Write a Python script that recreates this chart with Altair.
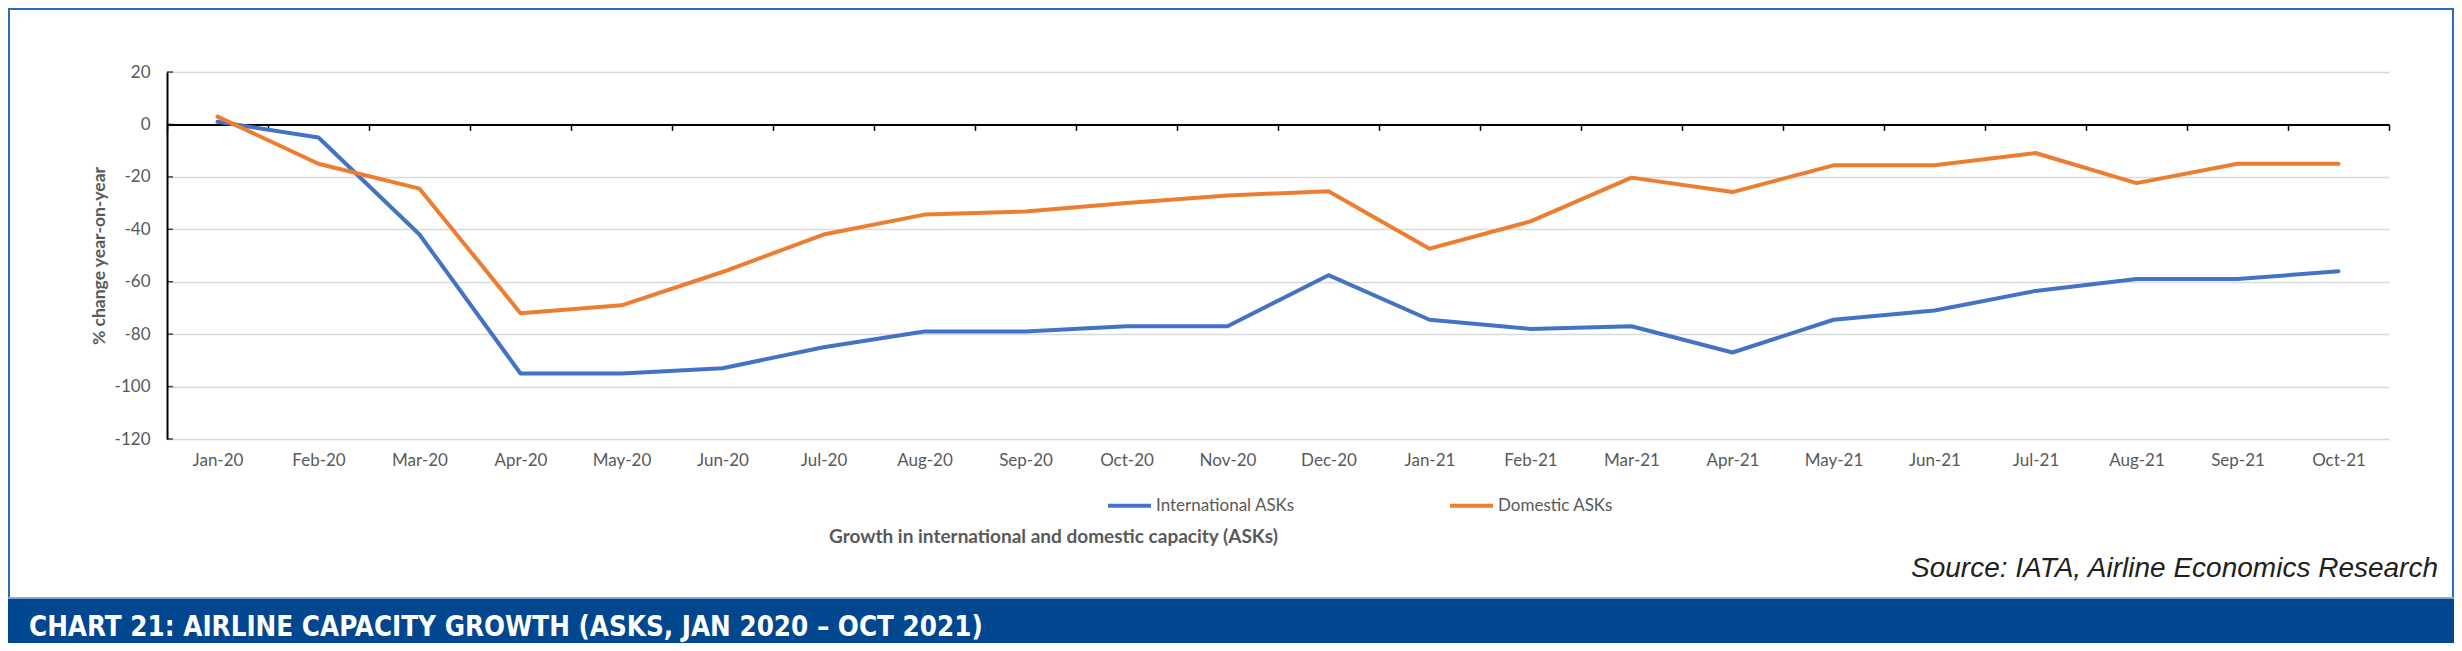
import altair as alt
import pandas as pd

# ---- data ----
months = ["Jan-20", "Feb-20", "Mar-20", "Apr-20", "May-20", "Jun-20", "Jul-20",
          "Aug-20", "Sep-20", "Oct-20", "Nov-20", "Dec-20", "Jan-21", "Feb-21",
          "Mar-21", "Apr-21", "May-21", "Jun-21", "Jul-21", "Aug-21", "Sep-21", "Oct-21"]
international = [1, -5, -42, -95, -95, -93, -85, -79, -79, -77, -77, -57.5,
                 -74.5, -78, -77, -87, -74.5, -71, -63.5, -59, -59, -56]
domestic = [3, -15, -24.5, -72, -69, -56.3, -42, -34.4, -33.2, -30, -27.1, -25.5,
            -47.4, -37, -20.3, -25.8, -15.6, -15.6, -10.9, -22.4, -15, -15]
series_names = ["International ASKs", "Domestic ASKs"]
series_colors = ["#4472C4", "#ED7D31"]
y_ticks = [20, 0, -20, -40, -60, -80, -100, -120]

chart_title = "Growth in international and domestic capacity (ASKs)"
y_title = "% change year-on-year"
source_text = "Source: IATA, Airline Economics Research"
banner_text = "CHART 21: AIRLINE CAPACITY GROWTH (ASKS, JAN 2020 \u2013 OCT 2021)"

rows = []
for name, vals in zip(series_names, [international, domestic]):
    for m, v in zip(months, vals):
        rows.append({"month": m, "series": name, "value": v})
df = pd.DataFrame(rows)
ticks_df = pd.DataFrame({"value": y_ticks})
one = pd.DataFrame({"k": [0]})

W, H = 2222, 367
FONT = "Lato, Carlito, Calibri, sans-serif"
GRAY = "#595959"
Y0 = H * 20 / 140  # pixel position of the zero line inside the plot

x_enc = alt.X(
    "month:N", bandPosition=0.5,
    scale=alt.Scale(type="band", domain=months, paddingInner=0, paddingOuter=0),
    axis=alt.Axis(title=None, orient="bottom", offset=-(H - Y0), grid=False,
                  domainColor="black", domainWidth=2,
                  tickColor="black", tickSize=6, tickWidth=1.5, tickBand="extent",
                  labelPadding=322, labelFont=FONT, labelFontSize=17,
                  labelColor=GRAY, labelAngle=0),
)
y_enc = alt.Y(
    "value:Q",
    scale=alt.Scale(domain=[-120, 20], nice=False, zero=False),
    axis=alt.Axis(values=y_ticks, title=y_title, titleFont=FONT, titleFontSize=17.5,
                  titleFontWeight="bold", titleColor=GRAY, titleX=-68, titleY=H / 2,
                  titleAlign="center", titleBaseline="middle",
                  labelFont=FONT, labelFontSize=17, labelColor=GRAY, labelPadding=17,
                  labelExpr="replace(datum.label, '\u2212', '-')",
                  ticks=False, domainColor="black", domainWidth=2,
                  gridColor="#D9D9D9", gridWidth=1.3),
)
color_enc = alt.Color(
    "series:N",
    scale=alt.Scale(domain=series_names, range=series_colors),
    legend=alt.Legend(title=None, orient="none", legendX=939, legendY=410,
                      direction="horizontal", symbolType="stroke", symbolSize=1849,
                      symbolStrokeWidth=4, labelFont=FONT, labelFontSize=17,
                      labelColor=GRAY, labelOffset=3, columnPadding=147),
)

lines = alt.Chart(df).mark_line(strokeWidth=4, strokeCap="round", strokeJoin="round").encode(
    x=x_enc, y=y_enc, color=color_enc
)

yticks = alt.Chart(ticks_df).mark_tick(orient="horizontal", color="black", thickness=1.5, size=6).encode(
    y=alt.Y("value:Q"), x=alt.value(3)
)

title_mark = alt.Chart(one).mark_text(
    text=chart_title, font=FONT, fontSize=19, fontWeight="bold", color=GRAY,
    align="center", baseline="middle"
).encode(x=alt.value(886.5), y=alt.value(465))

source_mark = alt.Chart(one).mark_text(
    text=source_text, font="Liberation Sans, Arial, sans-serif", fontStyle="italic",
    fontSize=28, color="#231F20", align="right", baseline="alphabetic"
).encode(x=alt.value(2271), y=alt.value(505))

banner = alt.Chart(one).mark_rect(color="#00478F").encode(
    x=alt.value(-159), x2=alt.value(2287), y=alt.value(526), y2=alt.value(571)
)
banner_line = alt.Chart(one).mark_rule(color="#9DC3E6", strokeWidth=1.5).encode(
    x=alt.value(-159), x2=alt.value(2287), y=alt.value(526)
)
banner_mark = alt.Chart(one).mark_text(
    text=banner_text, font="Liberation Sans Narrow, DejaVu Sans Condensed, sans-serif",
    fontWeight="bold", fontSize=27.5, color="white", align="left", baseline="middle"
).encode(x=alt.value(-138), y=alt.value(556))

frame = alt.Chart(one).mark_rect(fillOpacity=0, stroke="#2E6DB4", strokeWidth=2).encode(
    x=alt.value(-158), x2=alt.value(2286), y=alt.value(-63), y2=alt.value(526)
)

chart = alt.layer(
    frame, yticks, lines, title_mark, source_mark, banner, banner_line, banner_mark
).properties(
    width=W, height=H,
    padding={"left": 159, "top": 64, "right": 65, "bottom": 204},
    autosize=alt.AutoSizeParams(type="none"),
    background="white",
).configure_view(strokeWidth=0)

chart.save("out.html", embed_options={"renderer": "svg", "actions": False})
